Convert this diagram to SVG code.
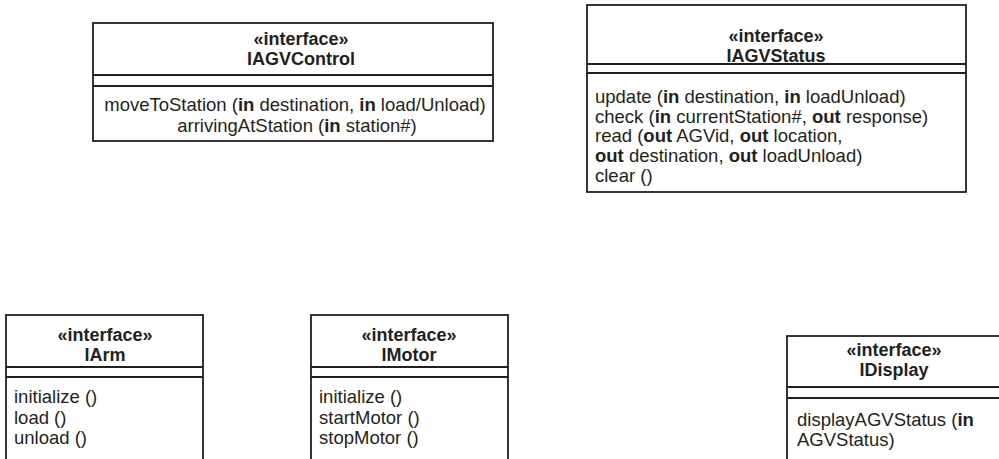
<svg xmlns="http://www.w3.org/2000/svg" width="999" height="459" viewBox="0 0 999 459">
<style>
.box{fill:#fff;stroke:#231f20;stroke-width:1.8}
.ln{stroke:#231f20;stroke-width:1.8}
text{font-family:"Liberation Sans",Arial,sans-serif;font-size:18.5px;fill:#231f20}
.h{font-weight:bold;text-anchor:middle;font-size:18px}
.c{text-anchor:middle}
.b{font-weight:bold}
</style>
<rect width="999" height="459" fill="#fff"/>
<g id="IAGVControl">
<rect class="box" x="93" y="23" width="400" height="118"/>
<line class="ln" x1="93" y1="75" x2="493" y2="75"/>
<line class="ln" x1="93" y1="86" x2="493" y2="86"/>
<text class="h" x="301" y="45">«interface»</text>
<text class="h" x="301" y="64.5">IAGVControl</text>
<text class="c" x="295" y="111">moveToStation (<tspan class="b">in</tspan> destination, <tspan class="b">in</tspan> load/Unload)</text>
<text class="c" x="297" y="131.5">arrivingAtStation (<tspan class="b">in</tspan> station#)</text>
</g>
<g id="IAGVStatus">
<rect class="box" x="587" y="5" width="379" height="187"/>
<line class="ln" x1="587" y1="64" x2="966" y2="64"/>
<line class="ln" x1="587" y1="73" x2="966" y2="73"/>
<text class="h" x="776" y="42">«interface»</text>
<text class="h" x="776" y="62">IAGVStatus</text>
<text x="595" y="102.5">update (<tspan class="b">in</tspan> destination, <tspan class="b">in</tspan> loadUnload)</text>
<text x="595" y="122.5">check (<tspan class="b">in</tspan> currentStation#, <tspan class="b">out</tspan> response)</text>
<text x="595" y="142">read (<tspan class="b">out</tspan> AGVid, <tspan class="b">out</tspan> location,</text>
<text x="595" y="162"><tspan class="b">out</tspan> destination, <tspan class="b">out</tspan> loadUnload)</text>
<text x="595" y="182">clear ()</text>
</g>
<g id="IArm">
<rect class="box" x="6" y="315" width="197" height="160"/>
<line class="ln" x1="6" y1="367" x2="203" y2="367"/>
<line class="ln" x1="6" y1="377" x2="203" y2="377"/>
<text class="h" x="105" y="341">«interface»</text>
<text class="h" x="105" y="360.5">IArm</text>
<text x="14" y="403">initialize ()</text>
<text x="14" y="423.5">load ()</text>
<text x="14" y="444">unload ()</text>
</g>
<g id="IMotor">
<rect class="box" x="311" y="315" width="197" height="160"/>
<line class="ln" x1="311" y1="367" x2="508" y2="367"/>
<line class="ln" x1="311" y1="377" x2="508" y2="377"/>
<text class="h" x="409" y="341">«interface»</text>
<text class="h" x="409" y="360.5">IMotor</text>
<text x="319" y="403">initialize ()</text>
<text x="319" y="423.5">startMotor ()</text>
<text x="319" y="444">stopMotor ()</text>
</g>
<g id="IDisplay">
<rect class="box" x="787" y="336" width="216" height="140"/>
<line class="ln" x1="787" y1="387" x2="1003" y2="387"/>
<line class="ln" x1="787" y1="398" x2="1003" y2="398"/>
<text class="h" x="894" y="356">«interface»</text>
<text class="h" x="894" y="375.5">IDisplay</text>
<text x="797" y="425.5">displayAGVStatus (<tspan class="b">in</tspan></text>
<text x="797" y="445.5">AGVStatus)</text>
</g>
<g id="connectors"/>
</svg>
